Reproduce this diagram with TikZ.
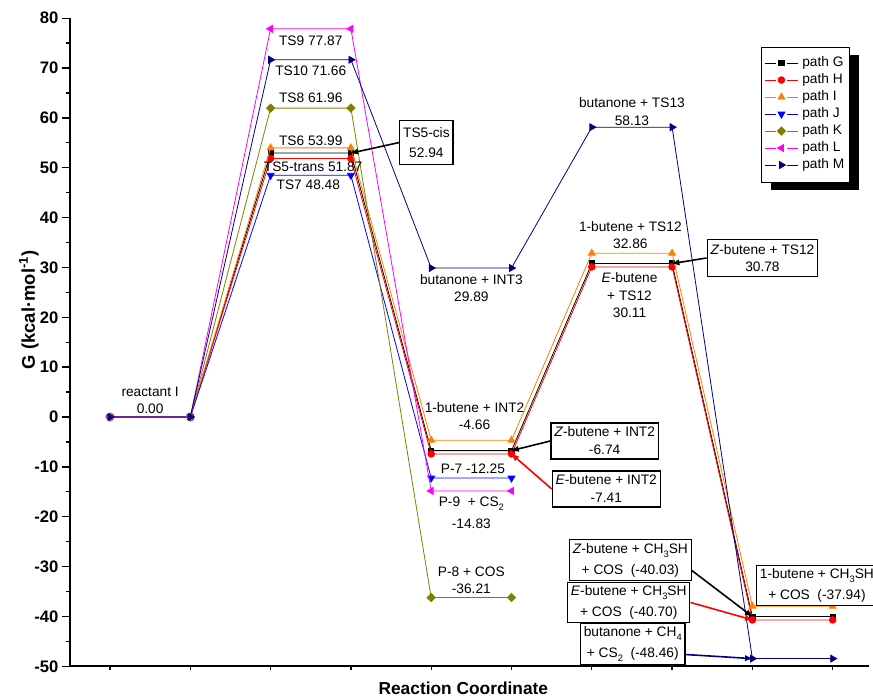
\documentclass[tikz,border=0pt]{standalone}
\usepackage{fontspec}
\setmainfont{Liberation Sans}
\usepackage{tikz}
\usetikzlibrary{
arrows.meta,
calc,
plotmarks,
}
\definecolor{cRed}{RGB}{255,0,0}
\definecolor{cOrange}{RGB}{255,128,0}
\definecolor{cBlue}{RGB}{0,0,255}
\definecolor{cOlive}{RGB}{128,128,0}
\definecolor{cMagenta}{RGB}{255,0,255}
\definecolor{cNavy}{RGB}{0,0,128}
\newcommand{\lowsub}[1]{\raisebox{-0.55ex}{\fontsize{7}{8}\selectfont #1}}

\begin{document}
\begin{tikzpicture}[x=60.225pt, y=3.739pt,
	every node/.style={font=\fontsize{10.3}{13}\selectfont},
	lbl/.style={align=center, inner sep=0pt},
	box/.style={draw=black, line width=0.9pt, fill=white, align=center, inner xsep=2.5pt, inner ysep=3pt},
	arr/.style={line width=1.2pt, -{Triangle[length=5.5pt,width=4pt]}},
	tlbl/.style={anchor=east, inner sep=0pt, font=\bfseries\fontsize{12.5}{14}\selectfont},
	pathG/.style={color=black, line width=0.6pt, mark=square*, mark size=2pt, mark options={solid}},
	pathH/.style={color=cRed, line width=0.6pt, mark=*, mark size=2.5pt, mark options={solid}},
	pathI/.style={color=cOrange, line width=0.6pt, mark=triangle*, mark size=3pt, mark options={solid}},
	pathJ/.style={color=cBlue, line width=0.6pt, mark=triangle*, mark size=3pt, mark options={solid, rotate=180}},
	pathK/.style={color=cOlive, line width=0.6pt, mark=square*, mark size=2.2pt, mark options={solid, rotate=45}},
	pathL/.style={color=cMagenta, line width=0.6pt, mark=triangle*, mark size=3pt, mark options={solid, rotate=90}},
	pathM/.style={color=cNavy, line width=0.6pt, mark=triangle*, mark size=3pt, mark options={solid, rotate=-90}},
	]
	\useasboundingbox (-0.370,-56.17) rectangle (10.502,83.65);

	% Axes
	\draw[line width=1.5pt] (0.5,80) -- (0.5,-50) -- (10.45,-50);
	\foreach \v [count=\k] in {-50,-40,...,80} {
		\draw[line width=1pt] (0.5,\v) -- (0.4,\v);
		\node[tlbl] (ytick\k) at (0.36,\v) {\v};
	}
	\foreach \v in {-45,-35,...,75}
		\draw[line width=1pt] (0.5,\v) -- (0.45,\v);
	\foreach \i in {1,...,10}
		\draw[line width=1pt] (\i,-50) -- (\i,-50.8);
	\node[font=\bfseries\fontsize{13}{15}\selectfont] (xtitle) at (5.4,-54.4) {Reaction Coordinate};
	\node[font=\bfseries\fontsize{13.8}{15}\selectfont, rotate=90] (ytitle) at (-0.01,21.5) {G (kcal·mol\textsuperscript{-1})};

	% Energy paths
	\draw[pathG] plot coordinates {(1,0) (2,0) (3,52.94) (4,52.94) (5,-6.74) (6,-6.74) (7,30.78) (8,30.78) (9,-40.03) (10,-40.03)};
	\draw[pathH] plot coordinates {(1,0) (2,0) (3,51.87) (4,51.87) (5,-7.41) (6,-7.41) (7,30.11) (8,30.11) (9,-40.70) (10,-40.70)};
	\draw[pathI] plot coordinates {(1,0) (2,0) (3,53.99) (4,53.99) (5,-4.66) (6,-4.66) (7,32.86) (8,32.86) (9,-37.94) (10,-37.94)};
	\draw[pathJ] plot coordinates {(1,0) (2,0) (3,48.48) (4,48.48) (5,-12.25) (6,-12.25)};
	\draw[pathK] plot coordinates {(1,0) (2,0) (3,61.96) (4,61.96) (5,-36.21) (6,-36.21)};
	\draw[pathL] plot coordinates {(1,0) (2,0) (3,77.87) (4,77.87) (5,-14.83) (6,-14.83)};
	\draw[pathM] plot coordinates {(1,0) (2,0) (3,71.66) (4,71.66) (5,29.89) (6,29.89) (7,58.13) (8,58.13) (9,-48.46) (10,-48.46)};

	% Define coordinates
	\coordinate (G4) at (4,52.94);
	\coordinate (G6) at (6,-6.74);
	\coordinate (H6) at (6,-7.41);
	\coordinate (G8) at (8,30.78);
	\coordinate (G9) at (9,-40.03);
	\coordinate (H9) at (9,-40.70);
	\coordinate (M9) at (9,-48.46);

	% Labels
	\node[lbl] (reac) at (1.5,3.3) {reactant I\\0.00};
	\node[lbl] (ts9) at (3.5,75.4) {TS9 77.87};
	\node[lbl] (ts10) at (3.5,69.4) {TS10 71.66};
	\node[lbl] (ts8) at (3.5,64.0) {TS8 61.96};
	\node[lbl] (ts6) at (3.5,55.4) {TS6 53.99};
	\node[lbl] (ts5t) at (3.53,50.15) {TS5-trans 51.87};
	\node[lbl] (ts7) at (3.47,46.5) {TS7 48.48};
	\node[box, inner ysep=5pt, font=\fontsize{10.3}{15}\selectfont] (ts5c) at (4.94,55.06) {TS5-cis\\52.94};
	\node[lbl] (int3) at (5.5,25.8) {butanone + INT3\\29.89};
	\node[lbl] (bint2) at (5.54,0.2) {1-butene + INT2\\-4.66};
	\node[box, font=\fontsize{10.3}{13.5}\selectfont] (zint2) at (7.16,-4.81) {\textit{Z}-butene + INT2\\-6.74};
	\node[box, font=\fontsize{10.3}{13.5}\selectfont] (eint2) at (7.18,-14.44) {\textit{E}-butene + INT2\\-7.41};
	\node[lbl] (p7) at (5.52,-10.43) {P-7 -12.25};
	\node[lbl, font=\fontsize{10.3}{16.5}\selectfont] (p9) at (5.5,-19.26) {P-9\ \ + CS\lowsub{2}\\-14.83};
	\node[lbl] (p8) at (5.5,-32.8) {P-8 + COS\\-36.21};
	\node[lbl] (ts13) at (7.5,61.28) {butanone + TS13\\58.13};
	\node[lbl] (bts12) at (7.48,36.5) {1-butene + TS12\\32.86};
	\node[lbl] (ets12) at (7.47,24.4) {\textit{E}-butene\\+ TS12\\30.11};
	\node[box, inner ysep=3.4pt] (zts12) at (9.125,31.9) {\textit{Z}-butene + TS12\\30.78};
	\node[box, inner ysep=2.5pt, font=\fontsize{10.3}{15.75}\selectfont] (zch) at (7.48,-28.7) {\textit{Z}-butene + CH\lowsub{3}SH\\+ COS\ \ (-40.03)};
	\node[box, inner ysep=2.5pt, font=\fontsize{10.3}{15.75}\selectfont] (ech) at (7.46,-37.2) {\textit{E}-butene + CH\lowsub{3}SH\\+ COS\ \ (-40.70)};
	\node[box, inner ysep=2.5pt, font=\fontsize{10.3}{15.75}\selectfont] (bch) at (7.51,-45.5) {butanone + CH\lowsub{4}\\+ CS\lowsub{2}\ \ (-48.46)};
	\node[box, inner ysep=2.5pt, anchor=west, font=\fontsize{10.3}{15.75}\selectfont] (bch3) at (9.045,-33.8) {1-butene + CH\lowsub{3}SH\\+ COS\ \ (-37.94)};

	% Arrows from boxes
	\draw[arr] (ts5c.west) -- (G4);
	\draw[arr] (zint2.west) -- (G6);
	\draw[arr, cRed] (eint2.west) -- (H6);
	\draw[arr] (zts12.west) -- (G8);
	\draw[arr] ($(zch.east)!0.5!(zch.south east)$) -- (G9);
	\draw[arr, cRed] (ech.east) -- (H9);
	\draw[arr, cNavy] ($(bch.east)!0.5!(bch.south east)$) -- (M9);

	% Legend
	\fill[black] (9.231,72.62) rectangle (10.327,45.54);
	\draw[line width=0.7pt, fill=white] (9.119,74.22) rectangle (10.215,47.14);
	\foreach \p [count=\k] in {G,H,I,J,K,L,M} {
		\pgfmathsetmacro\yy{71.0-3.41*(\k-1)}
		\draw[path\p] (9.157,\yy) -- (9.294,\yy) (9.431,\yy) -- (9.568,\yy);
		\draw[path\p] plot coordinates {(9.362,\yy)};
		\node[anchor=west, inner sep=0pt] (leg\p) at (9.618,\yy) {path \p};
	}
\end{tikzpicture}
\end{document}
